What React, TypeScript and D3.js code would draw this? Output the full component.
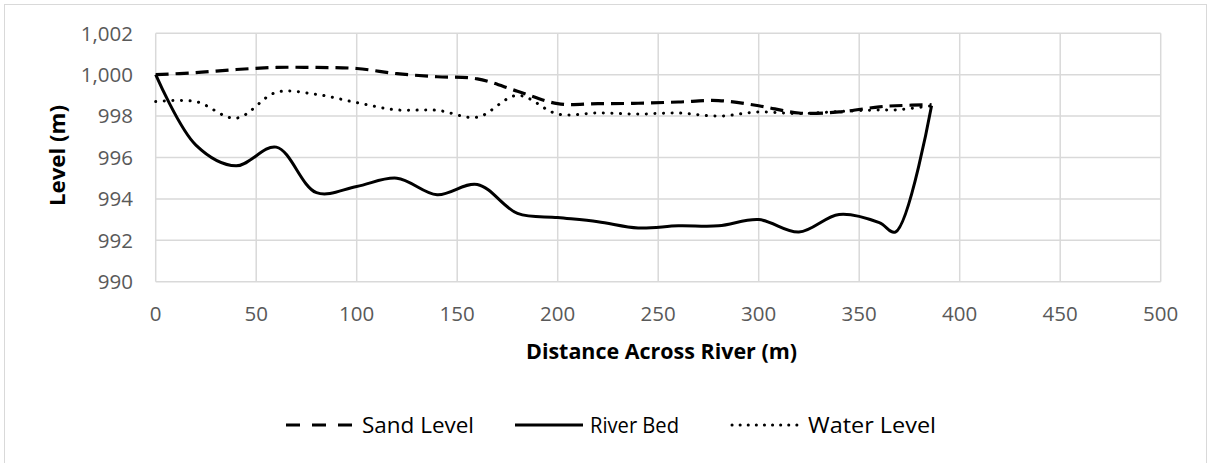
import React from "react";
import * as d3 from "d3";

const distances = [0, 20, 40, 60, 80, 100, 120, 140, 160, 180, 200, 220, 240, 260, 280, 300, 320, 340, 360, 368, 386];
const sandLevel = [1000, 1000.1, 1000.25, 1000.35, 1000.35, 1000.3, 1000.05, 999.9, 999.8, 999.2, 998.6, 998.6, 998.62, 998.68, 998.75, 998.5, 998.15, 998.2, 998.45, 998.5, 998.55];
const riverBed = [1000, 996.6, 995.6, 996.5, 994.3, 994.6, 995.0, 994.2, 994.7, 993.3, 993.1, 992.9, 992.6, 992.7, 992.7, 993.0, 992.4, 993.25, 992.85, 992.4, 998.5];
const waterLevel = [998.7, 998.7, 997.9, 999.15, 999.05, 998.65, 998.3, 998.28, 997.95, 999.0, 998.1, 998.15, 998.1, 998.15, 998.0, 998.2, 998.12, 998.22, 998.3, 998.3, 998.5];

const xTicks = [0, 50, 100, 150, 200, 250, 300, 350, 400, 450, 500];
const yTicks = [990, 992, 994, 996, 998, 1000, 1002];

const seriesNames = ["Sand Level", "River Bed", "Water Level"];

const W = 1208;
const H = 463;
const FONT = "'Open Sans', 'Liberation Sans', sans-serif";

export default function App() {
  const x = d3.scaleLinear().domain([0, 500]).range([155.7, 1160.7]);
  const y = d3.scaleLinear().domain([990, 1002]).range([281.7, 33.3]);
  const curve = d3.curveCatmullRom.alpha(0.5);
  const mk = (vals: number[]) =>
    d3
      .line<number>()
      .x((_, i) => x(distances[i]))
      .y((v) => y(v))
      .curve(curve)(vals) || "";

  const styles = [
    { dash: "13 7", cap: "butt", width: 3.2 },
    { dash: "none", cap: "butt", width: 3 },
    { dash: "0.1 8.5", cap: "round", width: 3 },
  ];
  const data = [sandLevel, riverBed, waterLevel];
  const fmt = d3.format(",");

  const legend = [
    { x1: 286, x2: 352, tx: 362, tl: 112 },
    { x1: 515, x2: 583, tx: 590, tl: 89 },
    { x1: 732, x2: 798, tx: 808, tl: 128 },
  ];
  const gy = 425;

  return (
    <svg width={W} height={H} style={{ position: "absolute", left: 0, top: 0, background: "#fff" }}>
      <rect x={4.5} y={4.5} width={1202} height={470} fill="#fff" stroke="#d9d9d9" strokeWidth={1} />
      {yTicks.map((t) => (
        <line key={"gy" + t} x1={x(0)} x2={x(500)} y1={y(t)} y2={y(t)} stroke="#d9d9d9" strokeWidth={1.5} />
      ))}
      {xTicks.map((t) => (
        <line key={"gx" + t} x1={x(t)} x2={x(t)} y1={y(1002)} y2={y(990)} stroke="#d9d9d9" strokeWidth={1.5} />
      ))}
      {yTicks.map((t) => (
        <text key={"ty" + t} x={133} y={y(t)} dy="0.36em" textAnchor="end" fontFamily={FONT} fontSize={20.5} fill="#595959">
          {fmt(t)}
        </text>
      ))}
      {xTicks.map((t) => (
        <text key={"tx" + t} x={x(t)} y={320.5} textAnchor="middle" fontFamily={FONT} fontSize={20.5} fill="#595959">
          {t}
        </text>
      ))}
      <text x={661.5} y={359} textAnchor="middle" fontFamily={FONT} fontSize={21.5} fontWeight="bold" fill="#000" textLength={271} lengthAdjust="spacingAndGlyphs">
        Distance Across River (m)
      </text>
      <text
        transform={`translate(64.5,155.5) rotate(-90)`}
        textAnchor="middle"
        fontFamily={FONT}
        fontSize={21.5}
        fontWeight="bold"
        fill="#000"
        textLength={101}
        lengthAdjust="spacingAndGlyphs"
      >
        Level (m)
      </text>
      <g>
        {data.map((vals, i) => (
          <path
            key={"s" + i}
            d={mk(vals)}
            fill="none"
            stroke="#000"
            strokeWidth={styles[i].width}
            strokeDasharray={styles[i].dash}
            strokeLinecap={styles[i].cap as any}
            strokeLinejoin="round"
          />
        ))}
      </g>
      {seriesNames.map((n, i) => (
        <g key={"l" + i}>
          <line
            x1={legend[i].x1}
            x2={legend[i].x2}
            y1={gy}
            y2={gy}
            stroke="#000"
            strokeWidth={styles[i].width}
            strokeDasharray={i === 0 ? "14 12" : i === 2 ? "0.1 8" : "none"}
            strokeLinecap={styles[i].cap as any}
          />
          <text x={legend[i].tx} y={433} fontFamily={FONT} fontSize={21.5} fill="#000" textLength={legend[i].tl} lengthAdjust="spacingAndGlyphs">
            {n}
          </text>
        </g>
      ))}
    </svg>
  );
}
